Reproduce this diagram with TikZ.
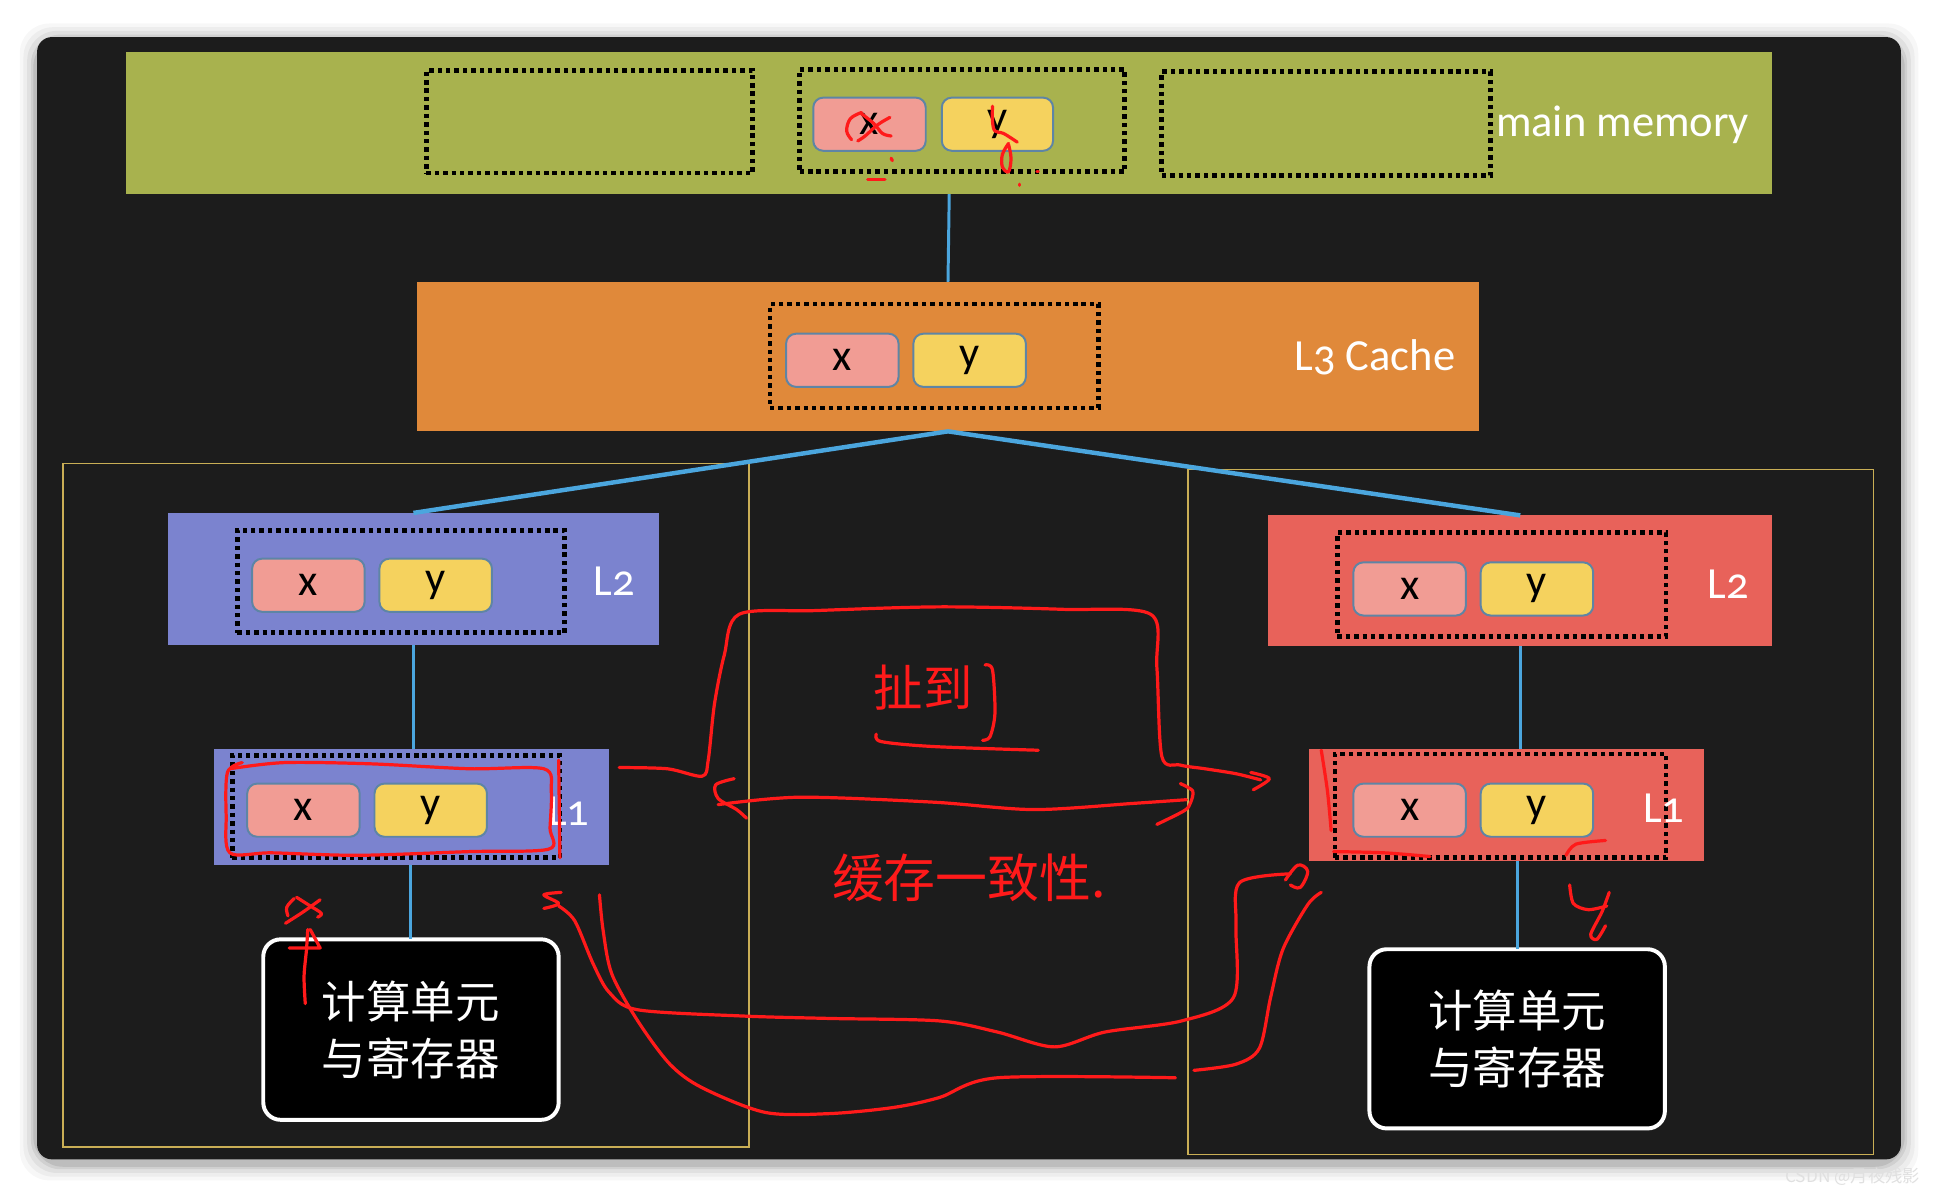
\documentclass[tikz,border=0pt]{standalone}
\usepackage{fontspec}
\setmainfont{Carlito}[Numbers=OldStyle]
\newfontfamily\cjk{Noto Sans CJK SC}
\usetikzlibrary{fit}
\definecolor{board}{HTML}{1C1C1C}
\definecolor{mmgreen}{HTML}{A8B24E}
\definecolor{lthree}{HTML}{E0893A}
\definecolor{peri}{HTML}{7B83CF}
\definecolor{salmon}{HTML}{E8625A}
\definecolor{xpink}{HTML}{F19C94}
\definecolor{ygold}{HTML}{F5D25E}
\definecolor{cellb}{HTML}{5E85A5}
\definecolor{linkblue}{HTML}{4BA6DE}
\definecolor{frame}{HTML}{C9AE55}
\definecolor{hred}{HTML}{FF1A1A}
\tikzset{
  bar/.style={inner sep=0pt, outer sep=0pt},
  dotbox/.style={draw=black, line width=1.9pt, dash pattern=on 1.8pt off 1.6pt, inner sep=0pt, outer sep=0pt},
  cell/.style={rounded corners=4pt, draw=cellb, line width=0.8pt, inner sep=0pt, outer sep=0pt},
  celltext/.style={text=black, font=\fontsize{18}{20}\selectfont, inner sep=0pt},
  link/.style={draw=linkblue, line width=1.2pt},
  link2/.style={draw=linkblue, line width=1.8pt},
  lbl/.style={text=white, font=\fontsize{18}{22}\selectfont, anchor=west, inner sep=0pt},
  cpu/.style={fill=black, draw=white, line width=1.6pt, rounded corners=7pt, inner sep=0pt, outer sep=0pt},
  cputext/.style={text=white, font=\cjk\fontsize{18}{23}\selectfont, align=center, inner sep=0pt},
  goldframe/.style={draw=frame, line width=0.6pt},
  hand/.style={draw=hred, line width=1.3pt, line cap=round, line join=round},
  handtext/.style={text=hred, font=\cjk\fontsize{20}{24}\selectfont, inner sep=0pt},
}
\begin{document}
\begin{tikzpicture}[x=0.5pt,y=-0.5pt]
\useasboundingbox (0,0) rectangle (1568,968);
\fill[white] (0,0) rectangle (1568,968);
% shadow
\foreach \s/\o in {14/0.03,11/0.04,8/0.05,5/0.07,3/0.09}{
  \fill[black, opacity=\o, rounded corners=12pt] (30-\s,30-\s+3) rectangle (1538+\s,938+\s+3);
}
\fill[board, rounded corners=6pt] (30,30) rectangle (1538,938);

% gold frames
\draw[goldframe] (51,375) rectangle (606,928);
\draw[goldframe] (961,380) rectangle (1516,934);

% main memory
\node[bar, fill=mmgreen, fit={(102,42) (1434,157)}] (mm) {};
\node[dotbox, fit={(345,57) (609,140)}] (mmd1) {};
\node[dotbox, fit={(647,56) (910,139)}] (mmd2) {};
\node[dotbox, fit={(940,58) (1206,142)}] (mmd3) {};
\node[cell, fill=xpink, fit={(658,79) (749,122)}] (mmx) {};
\node[cell, fill=ygold, fit={(762,79) (852,122)}] (mmy) {};
\node[celltext] at (mmx) {x};
\node[celltext] at (mmy) {y};
\node[lbl] (mmlbl) at (1210,101) {main memory};

% L3
\node[bar, fill=lthree, fit={(337,228) (1197,349)}] (l3) {};
\node[dotbox, fit={(623,246) (889,330)}] (l3d) {};
\node[cell, fill=xpink, fit={(636,270) (727,313)}] (l3x) {};
\node[cell, fill=ygold, fit={(739,270) (830,313)}] (l3y) {};
\node[celltext] at (l3x) {x};
\node[celltext] at (l3y) {y};
\node[lbl] (l3lbl) at (1047,289) {L3 Cache};

% left L2
\node[bar, fill=peri, fit={(136,415) (533,522)}] (l2a) {};
\node[dotbox, fit={(192,429) (457,512)}] (l2ad) {};
\node[cell, fill=xpink, fit={(204,452) (295,495)}] (l2ax) {};
\node[cell, fill=ygold, fit={(307,452) (398,495)}] (l2ay) {};
\node[celltext] at (l2ax) {x};
\node[celltext] at (l2ay) {y};
\node[lbl] (l2albl) at (480,470) {L2};

% left L1
\node[bar, fill=peri, fit={(173,606) (493,700)}] (l1a) {};
\node[dotbox, fit={(188,611) (453,694)}] (l1ad) {};
\node[cell, fill=xpink, fit={(200,634) (291,677)}] (l1ax) {};
\node[cell, fill=ygold, fit={(303,634) (394,677)}] (l1ay) {};
\node[celltext] at (l1ax) {x};
\node[celltext] at (l1ay) {y};
\node[lbl] (l1albl) at (443,656) {L1};

% left cpu
\node[cpu, fit={(213,760) (452,906)}] (cua) {};
\node[cputext] at (cua) {计算单元\\与寄存器};

% right L2
\node[bar, fill=salmon, fit={(1026,417) (1434,523)}] (l2b) {};
\node[dotbox, fit={(1082,431) (1348,515)}] (l2bd) {};
\node[cell, fill=xpink, fit={(1095,455) (1186,498)}] (l2bx) {};
\node[cell, fill=ygold, fit={(1198,455) (1289,498)}] (l2by) {};
\node[celltext] at (l2bx) {x};
\node[celltext] at (l2by) {y};
\node[lbl] (l2blbl) at (1381,473) {L2};

% right L1
\node[bar, fill=salmon, fit={(1059,606) (1379,697)}] (l1b) {};
\node[dotbox, fit={(1080,610) (1348,694)}] (l1bd) {};
\node[cell, fill=xpink, fit={(1095,634) (1186,677)}] (l1bx) {};
\node[cell, fill=ygold, fit={(1198,634) (1289,677)}] (l1by) {};
\node[celltext] at (l1bx) {x};
\node[celltext] at (l1by) {y};
\node[lbl] (l1blbl) at (1329,654) {L1};

% right cpu
\node[cpu, fit={(1108,768) (1347,913)}] (cub) {};
\node[cputext] at (cub) {计算单元\\与寄存器};

% connectors
\draw[link] (mm.south) -- (l3.north);
\draw[link2] (l3.south) -- (l2a.north);
\draw[link2] (l3.south) -- (l2b.north);
\draw[link] (l2a.south) -- (l2a.south |- l1a.north);
\draw[link] (cua.north |- l1a.south) -- (cua.north);
\draw[link] (l2b.south) -- (l2b.south |- l1b.north);
\draw[link] (cub.north |- l1b.south) -- (cub.north);

% ---------- red handwriting ----------
% main memory marks
\draw[hand] plot[smooth, tension=0.6] coordinates {(697,91) (688,96) (685,106) (689,113)};
\draw[hand] plot[smooth, tension=0.6] coordinates {(697,92) (707,100) (714,108) (721,110)};
\draw[hand] plot[smooth, tension=0.6] coordinates {(720,95) (710,101) (700,110) (694,114)};
\draw[hand] plot[smooth, tension=0.6] coordinates {(803,86) (803,98) (805,106) (812,108) (823,115)};
\draw[hand] plot[smooth, tension=0.6] coordinates {(816,116) (811,125) (811,135) (816,139) (818,128) (816,117)};
\draw[hand] (702,145) -- (716,145);
\draw[hand] (721,128) -- (722,130);
\draw[hand] (825,149) -- (825,150);
\draw[hand] (839,139) -- (840,139);

% left L1 red rectangle
\draw[hand] plot[smooth, tension=0.5] coordinates {(186,622) (230,617) (300,618) (380,622) (440,622) (446,640) (445,670) (444,687) (380,689) (290,692) (220,690) (186,690) (183,660) (184,625) (196,617)};
\draw[hand] (452,615) -- (453,694);

% top path to right L1
\draw[hand] plot[smooth, tension=0.5] coordinates {(501,621) (540,622) (568,628) (573,615) (578,570) (586,530) (598,497) (660,494) (760,491) (860,493) (931,497) (936,540) (940,612) (955,619) (975,622) (1000,626) (1020,631)};
\draw[hand] plot[smooth, tension=0.5] coordinates {(1012,625) (1027,630) (1014,639)};

% bottom bracket
\draw[hand] plot[smooth, tension=0.5] coordinates {(594,630) (579,635) (581,646) (596,655) (604,662)};
\draw[hand] plot[smooth, tension=0.5] coordinates {(581,651) (647,645) (755,649) (836,655) (917,650) (960,647)};
\draw[hand] plot[smooth, tension=0.5] coordinates {(955,634) (965,640) (963,650) (958,656) (936,667)};

% bracket and underline around text
\draw[hand] plot[smooth, tension=0.5] coordinates {(797,538) (803,542) (805,577) (801,596) (795,599)};
\draw[hand] plot[smooth, tension=0.5] coordinates {(709,594) (713,600) (755,604) (840,607)};
\node[handtext] (t1) at (747,556) {扯到};
\node[handtext, font=\cjk\fontsize{21}{24}\selectfont] (t2) at (784,710) {缓存一致性.};

% left alpha and arrow
\draw[hand] plot[smooth, tension=0.6] coordinates {(238,727) (232,734) (233,741)};
\draw[hand] plot[smooth, tension=0.6] coordinates {(240,726) (251,733) (260,739) (257,742)};
\draw[hand] plot[smooth, tension=0.6] coordinates {(259,728) (245,738) (231,747)};
\draw[hand] plot[smooth, tension=0.5] coordinates {(247,812) (246,790) (248,768) (249,752)};
\draw[hand] (234,767) -- (259,767) -- (251,752);

% inner loop back from right L1 to left L1
\draw[hand] plot[smooth, tension=0.5] coordinates {(454,722) (440,724) (452,731) (440,735)};
\draw[hand] plot[smooth, tension=0.5] coordinates {(452,733) (465,745) (480,780) (493,803) (516,817) (600,822) (671,824) (760,826) (807,835) (853,847) (894,835) (956,826) (998,807) (1000,749) (1003,714) (1044,707)};
\draw[hand] plot[smooth, tension=0.6] coordinates {(1040,712) (1050,700) (1058,705) (1052,718) (1044,716)};

% outer loop
\draw[hand] plot[smooth, tension=0.5] coordinates {(485,724) (488,753) (495,788) (516,826) (542,861) (568,880) (619,900) (671,901) (723,896) (760,888) (807,872) (951,872)};
\draw[hand] plot[smooth, tension=0.5] coordinates {(966,866) (1000,861) (1019,848) (1028,807) (1038,768) (1058,732) (1069,722)};

% right L1 marks
\draw[hand] plot[smooth, tension=0.5] coordinates {(1069,607) (1074,640) (1077,672)};
\draw[hand] plot[smooth, tension=0.5] coordinates {(1079,689) (1120,690) (1157,693)};
\draw[hand] plot[smooth, tension=0.5] coordinates {(1267,692) (1275,683) (1299,680)};
\draw[hand] plot[smooth, tension=0.5] coordinates {(1270,716) (1273,731) (1285,736) (1300,733)};
\draw[hand] plot[smooth, tension=0.5] coordinates {(1302,722) (1296,738) (1287,756) (1292,760) (1299,749)};

% watermark
\node[text=black!12, font=\cjk\fontsize{7}{8}\selectfont, anchor=west, inner sep=0pt] (wm) at (1444,952) {CSDN @月夜残影};
\end{tikzpicture}
\end{document}
